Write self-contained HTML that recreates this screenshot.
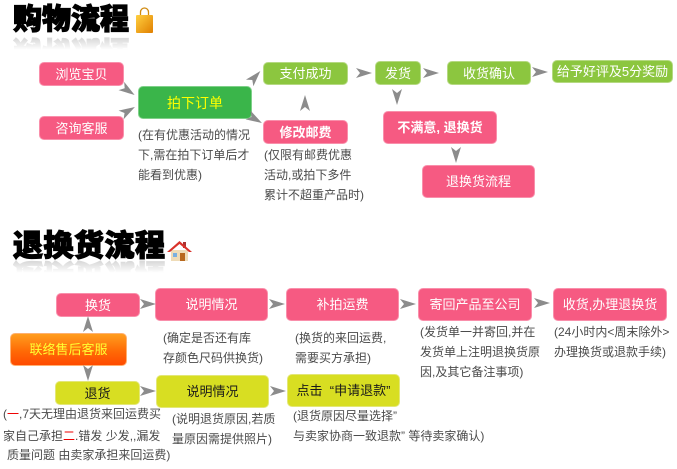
<!DOCTYPE html>
<html><head><meta charset="utf-8">
<style>
*{margin:0;padding:0;box-sizing:border-box}
html,body{width:677px;height:469px;background:#fff;overflow:hidden}
body{position:relative;font-family:"Liberation Sans","Noto Sans CJK SC",sans-serif}
.b{position:absolute;display:flex;align-items:center;justify-content:center;border-radius:5px;color:#fff;font-size:13px;white-space:nowrap;line-height:1}
.p{background:#f65a82;border:1px solid #f98fab}
.g{background:#8cc63f;border:1px solid #b5d982}
.y{background:#d8de22;border:1px solid #e3e777;color:#1a1a1a}
.t{position:absolute;font-size:12px;line-height:20px;color:#4a4a4a;white-space:nowrap}
.h{position:absolute;font-family:"Liberation Sans","Noto Sans CJK SC",sans-serif;font-weight:900;color:#000;white-space:nowrap;-webkit-text-stroke:1.2px #000}
.r{transform:scaleY(-1);color:#666;-webkit-text-stroke:1.2px #666;
 -webkit-mask-image:linear-gradient(to top,rgba(0,0,0,.32) 0%,rgba(0,0,0,0) 50%);
 mask-image:linear-gradient(to top,rgba(0,0,0,.32) 0%,rgba(0,0,0,0) 50%)}
.red{color:#e00}
</style></head><body>

<!-- Title 1 -->
<div class="h" style="left:13px;top:5px;font-size:29px;line-height:30px;height:30px">购物流程</div>
<div class="h r" style="left:13px;top:35px;font-size:29px;line-height:30px;height:30px">购物流程</div>

<!-- Title 2 -->
<div class="h" style="left:13px;top:232px;font-size:30px;line-height:30px;height:30px;letter-spacing:0.5px">退换货流程</div>
<div class="h r" style="left:13px;top:258px;font-size:30px;line-height:30px;height:30px;letter-spacing:0.5px">退换货流程</div>

<!-- Section 1 boxes -->
<div class="b p" style="left:39px;top:62px;width:85px;height:24px">浏览宝贝</div>
<div class="b p" style="left:39px;top:116px;width:85px;height:24px">咨询客服</div>
<div class="b" style="left:138px;top:86px;width:114px;height:33px;background:#3ab54a;border:1px solid #7fd089;color:#ffff00;font-size:14px">拍下订单</div>
<div class="b g" style="left:263px;top:62px;width:85px;height:23px">支付成功</div>
<div class="b p" style="left:263px;top:120px;width:85px;height:24px;font-weight:bold">修改邮费</div>
<div class="b g" style="left:375px;top:61px;width:46px;height:24px">发货</div>
<div class="b g" style="left:447px;top:61px;width:84px;height:24px">收货确认</div>
<div class="b g" style="left:552px;top:60px;width:121px;height:23px">给予好评及5分奖励</div>
<div class="b p" style="left:383px;top:111px;width:114px;height:33px;font-weight:bold">不满意, 退换货</div>
<div class="b p" style="left:422px;top:165px;width:113px;height:33px">退换货流程</div>

<div class="t" style="left:138px;top:125px">(在有优惠活动的情况<br>下,需在拍下订单后才<br>能看到优惠)</div>
<div class="t" style="left:264px;top:145px">(仅限有邮费优惠<br>活动,或拍下多件<br>累计不超重产品时)</div>

<!-- Section 2 boxes -->
<div class="b p" style="left:56px;top:293px;width:84px;height:24px">换货</div>
<div class="b p" style="left:155px;top:288px;width:113px;height:33px">说明情况</div>
<div class="b p" style="left:286px;top:288px;width:113px;height:33px">补拍运费</div>
<div class="b p" style="left:418px;top:288px;width:114px;height:33px">寄回产品至公司</div>
<div class="b p" style="left:553px;top:288px;width:114px;height:33px">收货,办理退换货</div>
<div class="b" style="left:10px;top:333px;width:117px;height:33px;background:linear-gradient(#ff9d1e,#ff6a06 55%,#ff4a00);border:1px solid #ffb070;color:#ffff33;font-size:13px">联络售后客服</div>
<div class="b y" style="left:55px;top:381px;width:85px;height:24px">退货</div>
<div class="b y" style="left:156px;top:375px;width:113px;height:33px">说明情况</div>
<div class="b y" style="left:287px;top:374px;width:113px;height:33px">点击 &nbsp;“申请退款”</div>

<div class="t" style="left:163px;top:328px">(确定是否还有库<br>存颜色尺码供换货)</div>
<div class="t" style="left:295px;top:328px">(换货的来回运费,<br>需要买方承担)</div>
<div class="t" style="left:420px;top:322px">(发货单一并寄回,并在<br>发货单上注明退换货原<br>因,及其它备注事项)</div>
<div class="t" style="left:554px;top:322px">(24小时内&lt;周末除外&gt;<br>办理换货或退款手续)</div>
<div class="t" style="left:3px;top:404px">(<span class="red">一</span>,7天无理由退货来回运费买</div>
<div class="t" style="left:3px;top:426px">家自己承担<span class="red">二</span>.错发 少发,,漏发</div>
<div class="t" style="left:7px;top:445px">质量问题 由卖家承担来回运费)</div>
<div class="t" style="left:172px;top:409px">(说明退货原因,若质<br>量原因需提供照片)</div>
<div class="t" style="left:293px;top:406px">(退货原因尽量选择”<br>与卖家协商一致退款” 等待卖家确认)</div>

<!-- Icons and arrows -->
<svg width="677" height="469" style="position:absolute;left:0;top:0" xmlns="http://www.w3.org/2000/svg">
 <defs>
  <linearGradient id="bag" x1="0" y1="0" x2="1" y2="1">
   <stop offset="0" stop-color="#ffd040"/><stop offset="1" stop-color="#e07f00"/>
  </linearGradient>
  <polygon id="ar" points="-8,-5 8,0 -8,5 -4,0" fill="#8c8c8c"/>
 </defs>
 <!-- bag -->
 <path d="M140.5,15 V12 a4,4 0 0 1 8,0 V15" fill="none" stroke="#d08a10" stroke-width="1.3"/>
 <rect x="136" y="15" width="17" height="18" rx="1" fill="url(#bag)"/>
 <!-- house -->
 <rect x="183" y="242" width="3" height="6" fill="#a33"/>
 <rect x="171" y="250" width="17" height="11" fill="#efdcb8"/>
 <polygon points="167,252 179.5,241 192,252 189,252 179.5,244 170,252" fill="#d9322a"/>
 <rect x="180" y="253" width="5" height="8" fill="#b8681e"/>
 <rect x="173" y="253" width="4" height="4" fill="#7ab0e0"/>
 <!-- section 1 arrows -->
 <use href="#ar" transform="translate(128,90.5) rotate(34)"/>
 <use href="#ar" transform="translate(128,111) rotate(-30)"/>
 <use href="#ar" transform="translate(255,77) rotate(-48)"/>
 <use href="#ar" transform="translate(255,119) rotate(30)"/>
 <use href="#ar" transform="translate(305,103) rotate(-90)"/>
 <use href="#ar" transform="translate(364,73)"/>
 <use href="#ar" transform="translate(431,73)"/>
 <use href="#ar" transform="translate(540,72)"/>
 <use href="#ar" transform="translate(397,97) rotate(90)"/>
 <use href="#ar" transform="translate(456,155) rotate(90)"/>
 <!-- section 2 arrows -->
 <use href="#ar" transform="translate(148,304)"/>
 <use href="#ar" transform="translate(277,304)"/>
 <use href="#ar" transform="translate(408,304)"/>
 <use href="#ar" transform="translate(542,303)"/>
 <use href="#ar" transform="translate(88,324) rotate(-90)"/>
 <use href="#ar" transform="translate(88,373) rotate(90)"/>
 <use href="#ar" transform="translate(148,391)"/>
 <use href="#ar" transform="translate(278,391)"/>
</svg>
</body></html>
